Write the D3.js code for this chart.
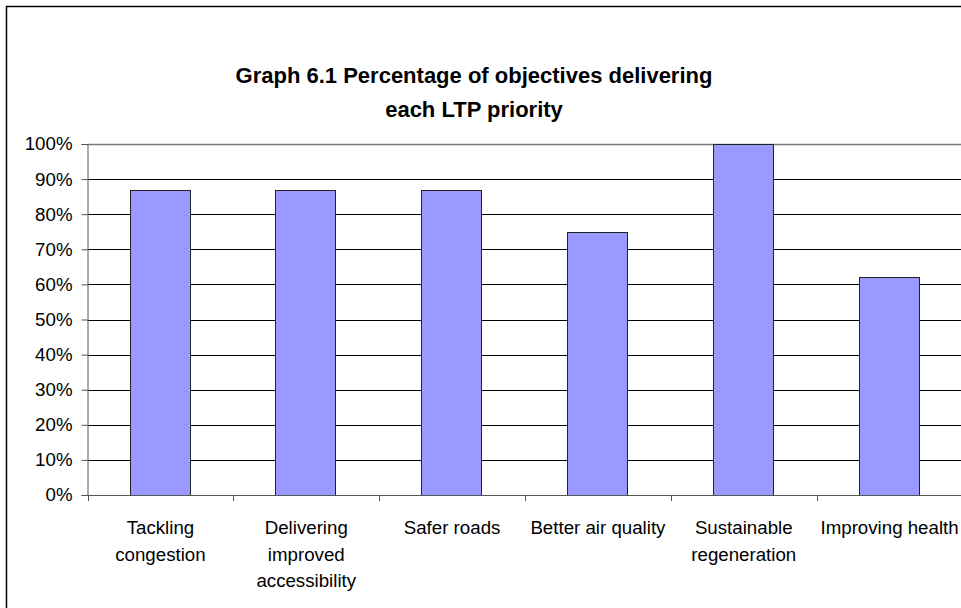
<!DOCTYPE html>
<html>
<head>
<meta charset="utf-8">
<script src="https://cdn.jsdelivr.net/npm/d3@7"></script>
<style>
  body { margin: 0; background: #fff; }
  svg { display: block; font-family: "Liberation Sans", Arial, sans-serif; }
</style>
</head>
<body>
<svg id="svg" width="961" height="608"></svg>
<script>
// chart data
const categories = ["Tackling congestion", "Delivering improved accessibility", "Safer roads",
                    "Better air quality", "Sustainable regeneration", "Improving health"];
const percentages = [87, 87, 87, 75, 100, 62];
const yTicks = [0, 10, 20, 30, 40, 50, 60, 70, 80, 90, 100];
const titleLines = ["Graph 6.1 Percentage of objectives delivering", "each LTP priority"];

const svg = d3.select("#svg");

// outer chart border (right and bottom edges fall outside the picture)
svg.append("rect").attr("x", 6.5).attr("y", 6.5).attr("width", 1000).attr("height", 1000)
   .attr("fill", "none").attr("stroke", "#000").attr("stroke-width", 1.5);

const plotLeft = 87.5, plotRight = 962.5, plotTop = 144, plotBottom = 495;

const x = d3.scaleBand().domain(categories).range([plotLeft, plotRight]).padding(0);
const y = d3.scaleLinear().domain([0, 100]).range([plotBottom, plotTop]);

// gridlines
svg.append("g").selectAll("line").data(yTicks.filter(d => d > 0)).join("line")
   .attr("x1", plotLeft).attr("x2", plotRight)
   .attr("y1", d => Math.round(y(d)) + 0.5).attr("y2", d => Math.round(y(d)) + 0.5)
   .attr("stroke", d => d == 100 ? "#777" : "#000")
   .attr("stroke-width", d => d == 100 ? 1.5 : 1);

// bars
const barW = x.step() * 0.41;
svg.append("g").selectAll("rect").data(percentages).join("rect")
   .attr("x", (d, i) => Math.round(x(categories[i]) + (x.bandwidth() - barW) / 2) - 0.5)
   .attr("y", d => Math.round(y(d)) + 0.5)
   .attr("width", Math.round(barW))
   .attr("height", d => Math.round(y(0)) - Math.round(y(d)))
   .attr("fill", "#9999FF").attr("stroke", "#222").attr("stroke-width", 1);

// y axis
const yAxis = d3.axisLeft(y).tickValues(yTicks).tickFormat(d => d + "%").tickSize(6).tickPadding(9);
const gy = svg.append("g").attr("transform", "translate(" + plotLeft + ",0)").call(yAxis);
gy.select(".domain").attr("stroke", "#555");
gy.selectAll(".tick line").attr("stroke", "#555");
gy.selectAll(".tick text").attr("font-size", 18.7).attr("fill", "#000")
  .attr("font-family", "Liberation Sans, Arial, sans-serif");

// x axis baseline and boundary ticks
svg.append("line").attr("x1", plotLeft).attr("x2", plotRight)
   .attr("y1", plotBottom + 0.5).attr("y2", plotBottom + 0.5).attr("stroke", "#555");
svg.append("g").selectAll("line").data(categories).join("line")
   .attr("x1", d => Math.round(x(d)) + 0.5).attr("x2", d => Math.round(x(d)) + 0.5)
   .attr("y1", plotBottom).attr("y2", plotBottom + 6).attr("stroke", "#555");

// category labels, wrapped to the category width
const labels = svg.append("g").selectAll("text").data(categories).join("text")
   .attr("x", d => x(d) + x.bandwidth() / 2)
   .attr("y", 534)
   .attr("text-anchor", "middle").attr("font-size", 18.7).attr("fill", "#000");

labels.each(function(d) {
  const t = d3.select(this);
  const words = d.split(" ");
  let lines = [], cur = [];
  const probe = t.append("tspan");
  words.forEach(w => {
    const test = cur.concat([w]).join(" ");
    probe.text(test);
    if (probe.node().getComputedTextLength() > x.step() - 4 && cur.length) {
      lines.push(cur.join(" "));
      cur = [w];
    } else cur.push(w);
  });
  lines.push(cur.join(" "));
  probe.remove();
  lines.forEach((l, i) => {
    t.append("tspan").attr("x", x(d) + x.bandwidth() / 2).attr("y", 534 + i * 26.5).text(l);
  });
});

// title
svg.append("g").selectAll("text").data(titleLines).join("text")
   .attr("x", 474).attr("y", (d, i) => 83 + i * 34)
   .attr("text-anchor", "middle").attr("font-size", 22).attr("font-weight", "bold")
   .attr("fill", "#000").text(d => d);
</script>
</body>
</html>
